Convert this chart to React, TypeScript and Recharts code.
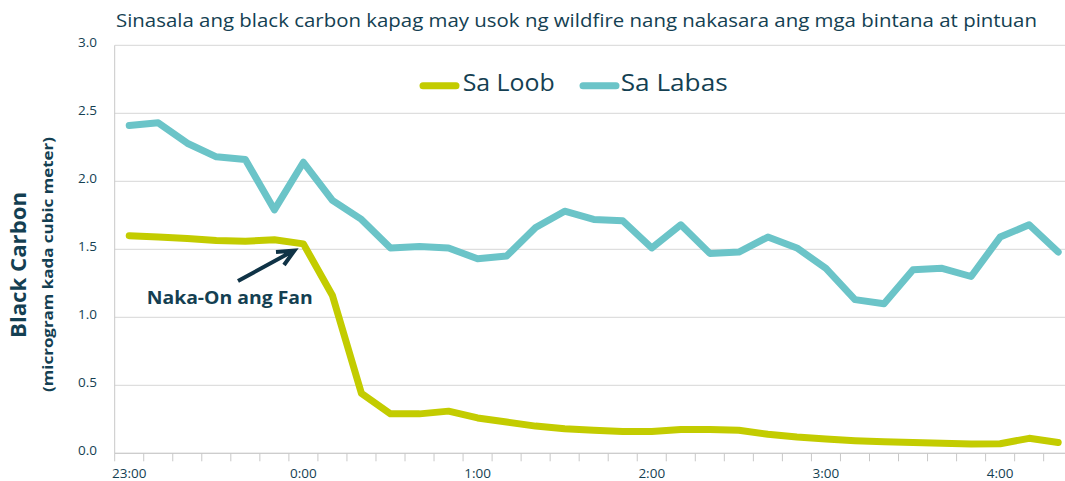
import { CartesianGrid, Legend, Line, LineChart, XAxis, YAxis } from 'recharts';

// 10-minute readings, 23:00 -> 4:20
const TIMES = [
  '23:00', '23:10', '23:20', '23:30', '23:40', '23:50',
  '0:00', '0:10', '0:20', '0:30', '0:40', '0:50',
  '1:00', '1:10', '1:20', '1:30', '1:40', '1:50',
  '2:00', '2:10', '2:20', '2:30', '2:40', '2:50',
  '3:00', '3:10', '3:20', '3:30', '3:40', '3:50',
  '4:00', '4:10', '4:20',
];

const SA_LOOB = [
  1.6, 1.59, 1.58, 1.565, 1.56, 1.57, 1.54, 1.16, 0.44, 0.29, 0.29, 0.31,
  0.26, 0.23, 0.2, 0.18, 0.17, 0.16, 0.16, 0.175, 0.175, 0.17, 0.14, 0.12,
  0.105, 0.093, 0.085, 0.08, 0.073, 0.069, 0.07, 0.11, 0.08,
];

const SA_LABAS = [
  2.41, 2.43, 2.28, 2.18, 2.16, 1.79, 2.14, 1.86, 1.72, 1.51, 1.52, 1.51,
  1.43, 1.45, 1.66, 1.78, 1.72, 1.71, 1.51, 1.68, 1.47, 1.48, 1.59, 1.51,
  1.36, 1.13, 1.1, 1.35, 1.36, 1.3, 1.59, 1.68, 1.48,
];

const Y_TICKS = [0, 0.5, 1, 1.5, 2, 2.5, 3];

const SERIES = [
  { key: 'loob', name: 'Sa Loob', color: '#c3cc00' },
  { key: 'labas', name: 'Sa Labas', color: '#6bc4c8' },
];

const TITLE = 'Sinasala ang black carbon kapag may usok ng wildfire nang nakasara ang mga bintana at pintuan';

const data = TIMES.map((t, i) => ({ time: t, loob: SA_LOOB[i], labas: SA_LABAS[i] }));

const TEXT = '#143f52';
const AXIS = '#c8c8c8';
const FONT = '"Open Sans", "Noto Sans", sans-serif';

const PLOT_LEFT = 114.7;
const PLOT_RIGHT = 1072.7;
const HALF_BAND = (PLOT_RIGHT - PLOT_LEFT) / TIMES.length / 2;

function XTick(props: any) {
  const { x, y, payload } = props;
  const index = payload?.index ?? props.index;
  const last = index === TIMES.length - 1;
  return (
    <g>
      <line x1={x - HALF_BAND} x2={x - HALF_BAND} y1={y} y2={y + 8} stroke={AXIS} />
      {last && <line x1={x + HALF_BAND} x2={x + HALF_BAND} y1={y} y2={y + 8} stroke={AXIS} />}
      {index % 6 === 0 && (
        <text x={x} y={y + 24.5} textAnchor="middle" fill={TEXT} fontSize={13.5} fontFamily={FONT}>
          {payload.value}
        </text>
      )}
    </g>
  );
}

function YTick(props: any) {
  const { x, y, payload } = props;
  return (
    <text x={x} y={y + 2} textAnchor="end" fill={TEXT} fontSize={13.5} fontFamily={FONT}>
      {Number(payload.value).toFixed(1)}
    </text>
  );
}

function LegendContent() {
  return (
    <svg width={340} height={40}>
      <line x1={8} x2={41} y1={23.7} y2={23.7} stroke={SERIES[0].color} strokeWidth={7} strokeLinecap="round" />
      <text x={47.7} y={28.7} fontSize={24} fill={TEXT} fontFamily={FONT} textLength={92} lengthAdjust="spacingAndGlyphs">
        {SERIES[0].name}
      </text>
      <line x1={168} x2={201} y1={23.7} y2={23.7} stroke={SERIES[1].color} strokeWidth={7} strokeLinecap="round" />
      <text x={205.7} y={28.7} fontSize={24} fill={TEXT} fontFamily={FONT} textLength={107} lengthAdjust="spacingAndGlyphs">
        {SERIES[1].name}
      </text>
    </svg>
  );
}

export default function App() {
  return (
    <div style={{ position: 'relative', width: 1065, height: 481, overflow: 'hidden', background: '#fff' }}>
      <style>{'html,body{margin:0;padding:0;overflow:hidden}'}</style>
      <LineChart
        width={1080}
        height={481}
        data={data}
        margin={{ top: 45.3, right: 1080 - PLOT_RIGHT, bottom: 0, left: 0 }}
      >
        <CartesianGrid vertical={false} stroke="#d6d6d6" />
        <XAxis
          dataKey="time"
          interval={0}
          height={481 - 453.3}
          padding={{ left: HALF_BAND, right: HALF_BAND }}
          tickLine={false}
          tickSize={0}
          tickMargin={0}
          stroke={AXIS}
          tick={<XTick />}
        />
        <YAxis
          domain={[0, 3]}
          ticks={Y_TICKS}
          width={PLOT_LEFT}
          tickLine={false}
          tickSize={0}
          tickMargin={17.7}
          stroke={AXIS}
          tick={<YTick />}
        />
        <Legend
          layout="horizontal"
          verticalAlign="middle"
          align="center"
          wrapperStyle={{ top: 62, left: 415, width: 340 }}
          content={<LegendContent />}
        />
        {SERIES.map((s) => (
          <Line
            key={s.key}
            dataKey={s.key}
            name={s.name}
            stroke={s.color}
            strokeWidth={7}
            strokeLinecap="round"
            strokeLinejoin="round"
            dot={false}
            activeDot={false}
            isAnimationActive={false}
            type="linear"
          />
        ))}
      </LineChart>

      <svg
        width={1065}
        height={481}
        style={{ position: 'absolute', left: 0, top: 0, pointerEvents: 'none' }}
      >
        <text x={116} y={27} fontSize={19} fill={TEXT} fontFamily={FONT} textLength={921} lengthAdjust="spacingAndGlyphs">
          {TITLE}
        </text>
        <text
          transform="translate(26, 265) rotate(-90)"
          textAnchor="middle"
          fontSize={22}
          fontWeight="bold"
          fill={TEXT}
          fontFamily={FONT}
          textLength={146}
          lengthAdjust="spacingAndGlyphs"
        >
          Black Carbon
        </text>
        <text
          transform="translate(53, 264.5) rotate(-90)"
          textAnchor="middle"
          fontSize={15}
          fontWeight="bold"
          fill={TEXT}
          fontFamily={FONT}
          textLength={255}
          lengthAdjust="spacingAndGlyphs"
        >
          (microgram kada cubic meter)
        </text>
        <text x={146.7} y={304} fontSize={18} fontWeight="bold" fill={TEXT} fontFamily={FONT} textLength={166} lengthAdjust="spacingAndGlyphs">
          Naka-On ang Fan
        </text>
        <path d="M238,281 L293,251 M276,252 L294.5,250.5 L284,265" fill="none" stroke="#0f3346" strokeWidth={4} />
      </svg>
    </div>
  );
}
